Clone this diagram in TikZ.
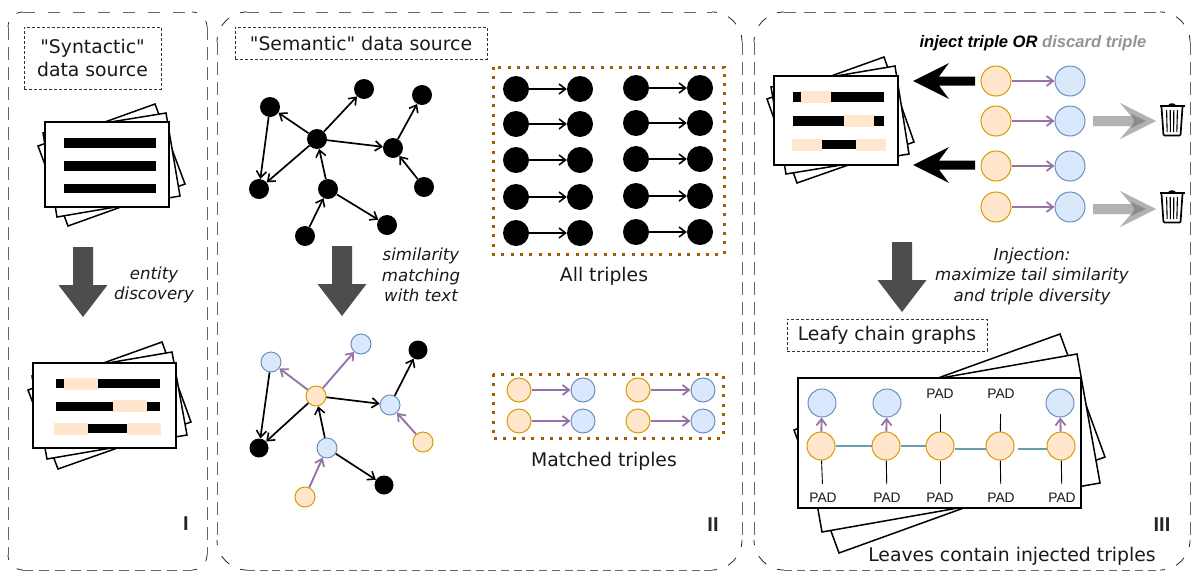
\documentclass[tikz,border=0pt]{standalone}
\usepackage{fontspec}
\setmainfont[Ligatures=TeXOff]{DejaVu Sans}
\newfontfamily\arialf{Liberation Sans}
\usetikzlibrary{arrows.meta}
\definecolor{peach}{HTML}{FFE6CC}
\definecolor{peachd}{HTML}{D79B00}
\definecolor{skyb}{HTML}{DAE8FC}
\definecolor{skybd}{HTML}{6C8EBF}
\definecolor{purp}{HTML}{9673A6}
\definecolor{brownd}{HTML}{A65A05}
\definecolor{bigg}{HTML}{4D4D4D}
\definecolor{teal2}{HTML}{6A9CB0}
\tikzset{
 pside/.style={draw=black!60,line width=1pt},
 pcorner/.style={draw=black!85,line width=.8pt,dash pattern=on 11pt off 12pt,dash phase=6pt},
 tagbox/.style={draw=black!80,line width=.8pt,dash pattern=on 3pt off 2pt},
 dotbox/.style={draw=brownd,line width=3pt,dash pattern=on 3pt off 6.3pt},
 sheet/.style={draw=black,fill=white,line width=1.5pt},
 front/.style={draw=black,fill=white,line width=2pt},
 bk/.style={circle,fill=black,inner sep=0pt,minimum size=20pt},
 bkb/.style={circle,fill=black,inner sep=0pt,minimum size=26pt},
 hd/.style={circle,draw=peachd,fill=peach,line width=1pt,inner sep=0pt,minimum size=#1},
 tl/.style={circle,draw=skybd,fill=skyb,line width=1pt,inner sep=0pt,minimum size=#1},
 bline/.style={draw=black,line width=1.7pt,-{Straight Barb[length=6.5pt,width=10pt,line width=1.6pt]}},
 pline/.style={draw=purp,line width=1.9pt,-{Straight Barb[length=6.5pt,width=10pt,line width=1.8pt]}},
 txt/.style={font=\fontsize{18.8}{23}\selectfont,text=black!90,align=center,inner sep=0pt},
 itxt/.style={font=\fontsize{16.6}{20.5}\selectfont\itshape,text=black!90,align=center,inner sep=0pt},
 roman/.style={font=\arialf\bfseries\fontsize{20}{20}\selectfont,text=black!85,inner sep=0pt},
 padt/.style={font=\arialf\fontsize{13.8}{14}\selectfont,text=black!90,inner sep=0pt},
 bar/.style={fill=black},
 pbar/.style={fill=peach},
}
% x1 y1 x2 y2 radius top-period-off bottom-on bottom-off
\newcommand{\panelbox}[8]{%
 \draw[pside,dash pattern=on 12pt off #6pt] (#1+#5,#2) -- (#3-#5,#2);
 \draw[pside,dash pattern=on #7pt off #8pt] (#1+#5,#4) -- (#3-#5,#4);
 \draw[pside,dash pattern=on 13pt off 7pt] (#1,#2+#5) -- (#1,#4-#5);
 \draw[pside,dash pattern=on 13pt off 7pt] (#3,#2+#5) -- (#3,#4-#5);
 \draw[pcorner] (#1,#2+#5) .. controls (#1,#2+.45*#5) and (#1+.45*#5,#2) .. (#1+#5,#2);
 \draw[pcorner] (#3-#5,#2) .. controls (#3-.45*#5,#2) and (#3,#2+.45*#5) .. (#3,#2+#5);
 \draw[pcorner] (#1,#4-#5) .. controls (#1,#4-.45*#5) and (#1+.45*#5,#4) .. (#1+#5,#4);
 \draw[pcorner] (#3-#5,#4) .. controls (#3-.45*#5,#4) and (#3,#4-.45*#5) .. (#3,#4-#5);
}
\newcommand{\bigarrow}[3]{\fill[bigg] (#1-10,#2) -- (#1+10,#2) -- (#1+10,#2+38) -- (#1+24.5,#2+38) -- (#1,#3) -- (#1-24.5,#2+38) -- (#1-10,#2+38) -- cycle;}
\newcommand{\blkarrow}[1]{\fill[black] (913,#1) -- (949,#1-18) -- (939,#1-4.5) -- (975,#1-4.5) -- (975,#1+4.5) -- (939,#1+4.5) -- (949,#1+18) -- cycle;}
\newcommand{\gryarrow}[1]{\fill[black!30] (1093,#1-5) -- (1131,#1-5) -- (1120,#1-18) -- (1156,#1) -- (1120,#1+18) -- (1131,#1+5) -- (1093,#1+5) -- cycle;
 \fill[black!45] (1131,#1-7) -- (1146,#1) -- (1131,#1+7) -- (1134,#1) -- cycle;}
\newcommand{\trashcan}[1]{\begin{scope}[shift={(1172,#1)},line width=1.7pt,draw=black]
 \draw (-12.5,3) -- (12.5,3);
 \fill (-4,2.5) .. controls (-3,-.5) and (3,-.5) .. (4,2.5) -- cycle;
 \draw[rounded corners=1pt] (-10.5,4) -- (-8.5,32.5) -- (8.5,32.5) -- (10.5,4);
 \foreach \tx in {-5.4,-1.8,1.8,5.4}{\draw[line width=1.1pt] (\tx,7) -- (\tx*.9,29);}
\end{scope}}
\begin{document}
\begin{tikzpicture}[x=1pt,y=-1pt]
\useasboundingbox (0,0) rectangle (1191,571);
% panels
\panelbox{8}{12}{207}{570}{15}{13}{10}{6}
\panelbox{217}{12}{742}{570}{30}{11}{8}{4.7}
\panelbox{754}{12}{1190}{570}{30}{8}{8}{5}
% labels
\node[tagbox,minimum width=137pt,minimum height=62pt] (tagA) at (92.5,58) {};
\node[txt] (tagAt) at (92.5,58) {"Syntactic"\\data source};
\node[tagbox,minimum width=252pt,minimum height=32pt] (tagB) at (361,43) {};
\node[txt] (tagBt) at (361,43) {"Semantic" data source};
\node[tagbox,minimum width=200pt,minimum height=32pt] (tagC) at (887,335) {};
\node[txt] (tagCt) at (887,335) {Leafy chain graphs};
% stack 1
\draw[sheet] (155,104) -- (185,184) -- (68,226) -- (38,146) -- cycle;
\draw[sheet] (166,113) -- (180,196) -- (57,217) -- (43,133) -- cycle;
\draw[front] (45,122) rectangle (169,207);
\fill[bar] (64,138) rectangle (155.5,147.5);
\fill[bar] (64,161) rectangle (155.5,170.5);
\fill[bar] (64,183.5) rectangle (155.5,193);
% big arrows
\bigarrow{83}{247}{317}
\bigarrow{342}{246}{316}
\bigarrow{902}{242}{312}
% stack 2
\draw[sheet] (162,342) -- (191,422) -- (58,469) -- (28,390) -- cycle;
\draw[sheet] (172,352) -- (187,435) -- (47,459) -- (32,376) -- cycle;
\draw[front] (33,363) rectangle (176,448);
\fill[bar] (56,379) rectangle (160,388);
\fill[pbar] (64,378) rectangle (98,390);
\fill[bar] (56,402) rectangle (160,411);
\fill[pbar] (113,400) rectangle (147,412);
\fill[bar] (88,424) rectangle (127,433);
\fill[pbar] (54,423) rectangle (88,435);
\fill[pbar] (127,423) rectangle (161,435);
\node[itxt] (lblA) at (154,285) {entity\\discovery};
\node[roman] (numA) at (186,524) {I};
% upper graph
\foreach \n/\x/\y in {a/270/107,b/364/89,c/422/95,d/317/139,e/393/148,f/259/189,g/328/189,h/424/187,i/387/225,j/305/236}
  \node[bk] (u\n) at (\x,\y) {};
\foreach \s/\t in {d/a,d/b,d/e,d/f,a/f,e/c,h/e,g/d,j/g,g/i}
  \draw[bline] (u\s) -- (u\t);
\node[itxt] (lblB) at (421,275) {similarity\\matching\\with text};
% lower graph
\node[tl=20pt] (la) at (271,362) {};
\node[tl=20pt] (lb) at (361,344) {};
\node[bk,minimum size=19pt] (lc) at (418,350) {};
\node[hd=20pt] (ld) at (316,396) {};
\node[tl=20pt] (le) at (390,405) {};
\node[bk,minimum size=19pt] (lf) at (259,448) {};
\node[tl=20pt] (lg) at (327,448) {};
\node[hd=20pt] (lh) at (423,442) {};
\node[bk,minimum size=19pt] (li) at (384,485) {};
\node[hd=20pt] (lj) at (305,497) {};
\foreach \s/\t in {d/a,d/b,h/e,j/g} \draw[pline] (l\s) -- (l\t);
\foreach \s/\t in {d/e,d/f,a/f,e/c,g/d,g/i} \draw[bline] (l\s) -- (l\t);
% all triples
\draw[dotbox] (493,67) rectangle (724,254);
\foreach \r/\y in {1/89,2/124,3/160,4/197,5/233}{
  \node[bkb] (p\r) at (516,\y) {};
  \node[bkb] (q\r) at (580,\y) {};
  \draw[bline] (p\r) -- (q\r);
  \node[bkb] (r\r) at (636,\y-1) {};
  \node[bkb] (s\r) at (700,\y-1) {};
  \draw[bline] (r\r) -- (s\r);
}
\node[txt] (allt) at (604,276) {All triples};
% matched triples
\draw[dotbox] (493,374) rectangle (723,438);
\foreach \r/\y in {1/390,2/421}{
  \node[hd=24pt] (mp\r) at (519,\y) {};
  \node[tl=24pt] (mq\r) at (583,\y) {};
  \draw[pline] (mp\r) -- (mq\r);
  \node[hd=24pt] (mr\r) at (638,\y) {};
  \node[tl=24pt] (ms\r) at (703,\y) {};
  \draw[pline] (mr\r) -- (ms\r);
}
\node[txt] (matt) at (604,461) {Matched triples};
\node[roman] (numB) at (713,525) {II};
% stack 3
\draw[sheet] (884,57) -- (914,142) -- (797,183) -- (767,99) -- cycle;
\draw[sheet] (895,66) -- (909,154) -- (786,174) -- (771,87) -- cycle;
\draw[front] (774,76) rectangle (898,165);
\fill[bar] (793,92) rectangle (884,102);
\fill[pbar] (801,91) rectangle (831,103);
\fill[bar] (793,116) rectangle (884,126);
\fill[pbar] (844,115) rectangle (874,127);
\fill[bar] (822,140) rectangle (856,149);
\fill[pbar] (792,139) rectangle (822,151);
\fill[pbar] (856,139) rectangle (886,151);
\node[font=\arialf\bfseries\itshape\fontsize{16.6}{18}\selectfont,inner sep=0pt] (injt) at (1033,43) {inject triple OR \textcolor{black!42}{discard triple}};
\blkarrow{81}
\blkarrow{165}
\gryarrow{121}
\gryarrow{209}
\trashcan{103}
\trashcan{190}
\foreach \r/\y in {1/81,2/121,3/166,4/207}{
  \node[hd=30pt] (io\r) at (996,\y) {};
  \node[tl=30pt] (ib\r) at (1070,\y) {};
  \draw[pline] (io\r) -- (ib\r);
}
\node[itxt] (lblC) at (1032,276) {Injection:\\maximize tail similarity\\and triple diversity};
% leafy chain
\draw[sheet] (1060,334) -- (1105,457) -- (839,553) -- (794,430) -- cycle;
\draw[sheet] (1077,354) -- (1100,483) -- (822,532) -- (799,403) -- cycle;
\draw[front] (798,378) rectangle (1081,508);
\foreach \r/\x in {1/821,2/886,3/940,4/1000,5/1061}
  \node[hd=28pt] (co\r) at (\x,446) {};
\node[tl=28pt] (cb1) at (822,403) {};
\node[tl=28pt] (cb2) at (887,403) {};
\node[tl=28pt] (cb5) at (1060,403) {};
\foreach \r in {1,2,5} \draw[pline] (co\r) -- (cb\r);
\draw[teal2,line width=1.5pt] (co1) -- (co2);
\draw[teal2,line width=1.5pt] (co2) -- (co3);
\draw[teal2,line width=1.5pt] ([yshift=-3pt]co3.east) -- ([yshift=-3pt]co4.west);
\draw[teal2,line width=1.5pt] ([xshift=3pt,yshift=-3pt]co4.east) -- ([yshift=-3pt]co5.west);
\foreach \r/\x in {1/823,2/887,3/940,4/1001,5/1062}{
  \node[padt] (pb\r) at (\x,498) {PAD};
  \draw[black,line width=.9pt,shorten >=9pt] (co\r) -- (pb\r);
}
\node[padt] (pt3) at (940,394) {PAD};
\node[padt] (pt4) at (1001,394) {PAD};
\draw[black,line width=.9pt,shorten >=15pt] (co3) -- (pt3);
\draw[black,line width=.9pt,shorten >=15pt] (co4) -- (pt4);
\node[txt] (leaves) at (1012,556) {Leaves contain injected triples};
\node[roman] (numC) at (1162,525) {III};
\end{tikzpicture}
\end{document}
